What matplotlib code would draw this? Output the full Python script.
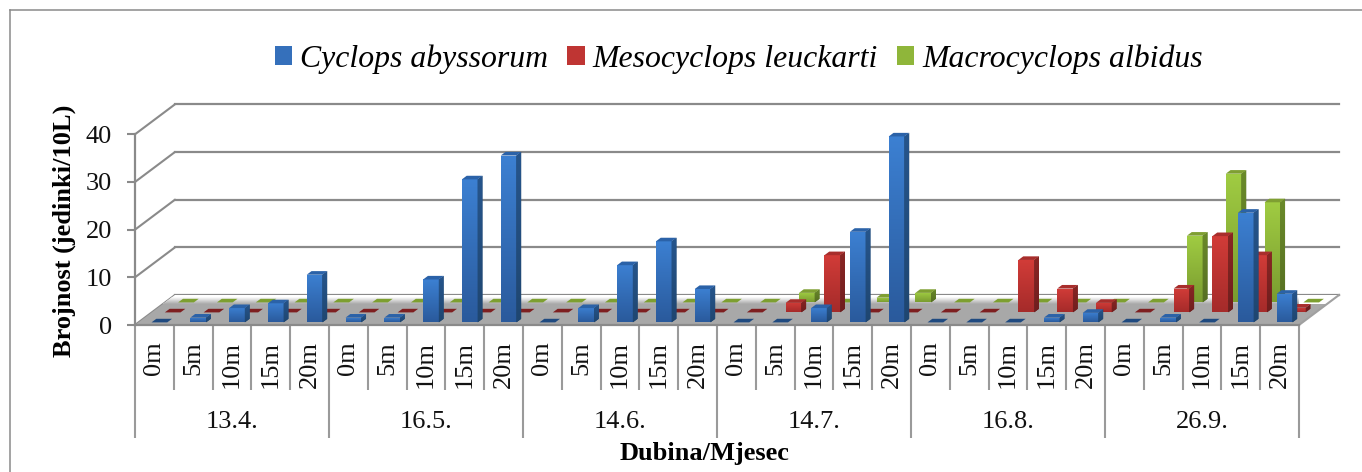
import numpy as np
import matplotlib
matplotlib.use("Agg")
import matplotlib.pyplot as plt
from matplotlib.colors import to_rgb
from matplotlib.lines import Line2D
from matplotlib.patches import Patch, Polygon

plt.rcParams['font.family'] = ['Liberation Serif', 'DejaVu Serif']

# ---------- data ----------
dates = ["13.4.", "16.5.", "14.6.", "14.7.", "16.8.", "26.9."]
depths = ["0m", "5m", "10m", "15m", "20m"]
cyclops = [0, 1, 3, 4, 10, 1, 1, 9, 30, 35, 0, 3, 12, 17, 7,
           0, 0, 3, 19, 39, 0, 0, 0, 1, 2, 0, 1, 0, 23, 6]
mesocyclops = [0, 0, 0, 0, 0, 0, 0, 0, 0, 0, 0, 0, 0, 0, 0,
               0, 2, 12, 0, 0, 0, 0, 11, 5, 2, 0, 5, 16, 12, 1]
macrocyclops = [0, 0, 0, 0, 0, 0, 0, 0, 0, 0, 0, 0, 0, 0, 0,
                0, 2, 0, 1, 2, 0, 0, 0, 0, 0, 0, 14, 27, 21, 0]
series_names = ["Cyclops abyssorum", "Mesocyclops leuckarti", "Macrocyclops albidus"]
y_ticks = [0, 10, 20, 30, 40]

# ---------- style ----------
W, H = 1362, 472
PX = 72 / 100
LEFT, RIGHT, BASE, TOP40 = 135, 1299, 325, 134.3
DEPTH_PX_X, DEPTH_PX_Y = 40, 30
GRAY = "#8a8a8a"
styles = [
    # front top, front bottom, side top, side bottom, top, flat
    ("#3c80d2", "#2a5a9c", "#26558c", "#1f4670", "#2b62a8", "#1f4a80"),
    ("#d23c38", "#a52b2a", "#8a2624", "#6f1e1e", "#a82e2c", "#7e1f20"),
    ("#a0cc42", "#7a9c30", "#6a8a2a", "#566f22", "#7f9f32", "#7d9f30"),
]
legend_colors = ["#3570bb", "#bf3533", "#8fb63a"]
row_depth = [0.087, 0.42, 0.753]      # depth of each series' front face
bar_depth = 0.12
bar_width = 0.405
bar_left = 0.336

fig = plt.figure(figsize=(W / 100, H / 100), dpi=100)
ax = fig.add_axes([LEFT / W, (H - BASE) / H, (RIGHT - LEFT) / W, (BASE - TOP40) / H])
ax.set_autoscale_on(False)
n = len(cyclops)
ax.set_xlim(0, n)
ax.set_ylim(0, 40)
ax.patch.set_visible(False)

cat_px = (RIGHT - LEFT) / n
val_px = (BASE - TOP40) / 40
DX = DEPTH_PX_X / cat_px     # full floor depth in x units
DV = DEPTH_PX_Y / val_px     # full floor depth in value units


def gradient_image(xs, ys, c_hi, c_lo, z, clip):
    hi, lo = np.array(to_rgb(c_hi)), np.array(to_rgb(c_lo))
    t = np.linspace(0, 1, 64)[:, None, None]
    arr = (hi[None, None, :] * (1 - t) + lo[None, None, :] * t)
    im = ax.imshow(arr, extent=(min(xs), max(xs), min(ys), max(ys)), origin="upper",
                   aspect="auto", zorder=z, interpolation="bilinear", clip_on=True)
    im.set_clip_path(clip)
    return im


def gradient_poly(xs, ys, c_hi, c_lo, z):
    poly = Polygon(np.column_stack([xs, ys]), closed=True, facecolor=c_lo, edgecolor="none",
                   zorder=z, clip_on=False)
    ax.add_patch(poly)
    gradient_image(xs, ys, c_hi, c_lo, z + 0.01, poly)


# ---------- walls ----------
for v in y_ticks:
    ax.plot([0, DX], [v, v + DV], color=GRAY, lw=1.5, clip_on=False, zorder=1, solid_capstyle="round")
    ax.plot([DX, n + DX], [v + DV, v + DV], color=GRAY, lw=1.6, clip_on=False, zorder=1)

# ---------- floor ----------
fx = [0, n, n + DX, DX]
fv = [0, 0, DV, DV]
floor = Polygon(np.column_stack([fx, fv]), closed=True, facecolor="#a8a8a8", edgecolor="none",
                zorder=2, clip_on=False)
ax.add_patch(floor)
band_v = DV * 0.70
band = Polygon([[band_v / DV * DX, band_v], [n + band_v / DV * DX, band_v], [n + DX, DV], [DX, DV]],
               closed=True, facecolor="white", edgecolor="none", zorder=2.1, clip_on=False)
ax.add_patch(band)
gradient_image([0, n + DX], [band_v, DV * 0.93], "#ffffff", "#a8a8a8", 2.15, band)
ax.plot([n, n + DX], [0, DV], color="#a0a0a0", lw=1.5, clip_on=False, zorder=2.2)

# ---------- bars, back row first ----------
all_values = [cyclops, mesocyclops, macrocyclops]
for row in (2, 1, 0):
    values = all_values[row]
    ftop, fbot, stop, sbot, top, flat = styles[row]
    d = row_depth[row]
    bx, bv = bar_depth * DX, bar_depth * DV
    z0 = 10 + (2 - row) * 10
    for i, val in enumerate(values):
        x0 = i + bar_left + d * DX
        v0 = d * DV
        v1 = v0 + val
        if val > 0:
            bars = ax.bar(x0, val, width=bar_width, bottom=v0, align="edge", color=fbot,
                          linewidth=0, zorder=z0 + 1, clip_on=False)
            gradient_image([x0, x0 + bar_width], [v0, v1], ftop, fbot, z0 + 1.01, bars[0])
            xr = x0 + bar_width
            gradient_poly([xr, xr + bx, xr + bx, xr], [v0, v0 + bv, v1 + bv, v1], stop, sbot, z0 + 2)
        tx = [x0, x0 + bar_width, x0 + bar_width + bx, x0 + bx]
        tv = [v1, v1, v1 + bv, v1 + bv]
        ax.fill(tx, tv, color=top if val > 0 else flat, linewidth=0, zorder=z0 + 3, clip_on=False)

# ---------- axes ----------
for s in ("top", "right"):
    ax.spines[s].set_visible(False)
for s in ("left", "bottom"):
    ax.spines[s].set_color(GRAY)
    ax.spines[s].set_linewidth(1.6)
    ax.spines[s].set_zorder(5)
ax.set_yticks(y_ticks)
ax.set_yticklabels([str(v) for v in y_ticks], fontsize=19, color="#111111")
ax.tick_params(axis="y", length=8 * PX, width=1.5, color=GRAY, pad=15 * PX)
g = len(depths)
ax.set_xticks(range(0, n + 1, g))
ax.set_xticks([i for i in range(n + 1) if i % g], minor=True)
ax.set_xticklabels([])
ax.tick_params(axis="x", which="major", length=112.5 * PX, width=1.5, color="#9a9a9a")
ax.tick_params(axis="x", which="minor", length=65 * PX, width=1.5, color="#9a9a9a")

for i in range(n):
    ax.annotate(depths[i % g], xy=(i + 0.5, 0), xycoords=("data", "axes fraction"),
                xytext=(0, -16.5 * PX), textcoords="offset points", rotation=90,
                ha="center", va="top", fontsize=19, color="#111111", annotation_clip=False)
for j, lab in enumerate(dates):
    ax.annotate(lab, xy=(j * g + g / 2, 0), xycoords=("data", "axes fraction"),
                xytext=(0, -97 * PX), textcoords="offset points",
                ha="center", va="center", fontsize=19, color="#111111", annotation_clip=False)

fig.text(705 / W, 1 - 453.5 / H, "Dubina/Mjesec", fontsize=19, fontweight="bold", ha="center", va="center")
fig.text(64 / W, 1 - 231 / H, "Brojnost (jedinki/10L)", fontsize=19, fontweight="bold",
         rotation=90, ha="center", va="center")

# ---------- legend ----------
handles = [Patch(facecolor=legend_colors[k], edgecolor="none") for k in range(3)]
leg = fig.legend(handles, series_names, ncol=3, loc="center", bbox_to_anchor=(739 / W, 1 - 59 / H),
                 frameon=False, handlelength=0.54, handleheight=0.54, handletextpad=0.25,
                 columnspacing=0.6, borderpad=0, borderaxespad=0,
                 prop={"family": "Liberation Serif", "style": "italic", "size": 22.9})

# ---------- outer frame ----------
fig.add_artist(Line2D([10 / W, 1], [1 - 10 / H, 1 - 10 / H], color=GRAY, lw=1.1, transform=fig.transFigure))
fig.add_artist(Line2D([10 / W, 10 / W], [1 - 10 / H, 0], color=GRAY, lw=1.1, transform=fig.transFigure))

fig.savefig("out.png", dpi=100)
